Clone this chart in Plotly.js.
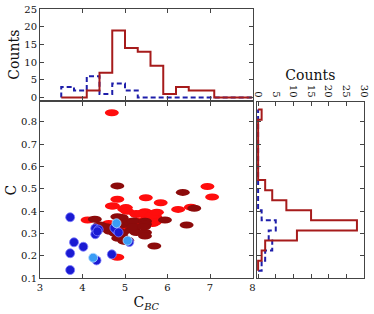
<!DOCTYPE html>
<html>
<head>
<meta charset="utf-8">
<script src="https://cdn.plot.ly/plotly-3.0.1.min.js"></script>
<style>html,body{margin:0;padding:0;background:#fff}#chart{width:374px;height:314px}</style>
</head>
<body>
<div id="chart"></div>
<script>
// ---- scatter data ----
const redX  = [4.12,4.69,4.69,4.62,4.82,4.72,4.82,4.98,4.95,4.88,4.93,5.02,5.05,5.26,5.24,5.10,5.27,5.15,5.49,5.47,5.40,5.50,5.35,5.55,5.38,5.58,5.84,5.67,5.71,5.65,5.62,5.70,5.75,5.65,6.25,6.55,6.94,7.05];
const redY  = [0.361,0.423,0.840,0.345,0.453,0.423,0.194,0.410,0.352,0.330,0.320,0.416,0.400,0.390,0.331,0.350,0.385,0.350,0.460,0.398,0.350,0.380,0.355,0.350,0.390,0.356,0.438,0.390,0.375,0.345,0.380,0.350,0.395,0.352,0.408,0.418,0.510,0.463];
const darkX = [4.29,4.41,4.45,4.65,4.55,4.82,4.82,4.92,4.84,4.96,4.92,4.75,4.85,4.90,4.78,4.97,4.99,5.08,5.21,5.20,5.15,5.27,5.20,5.05,5.47,5.47,5.47,5.47,5.45,5.69,5.94,6.36,6.45,6.63];
const darkY = [0.364,0.338,0.324,0.310,0.330,0.513,0.375,0.301,0.279,0.279,0.372,0.330,0.310,0.290,0.300,0.340,0.265,0.353,0.316,0.356,0.316,0.305,0.330,0.270,0.355,0.342,0.305,0.289,0.330,0.244,0.361,0.484,0.338,0.413];
const blueX = [3.71,3.71,3.71,3.80,4.02,4.30,4.30,4.33,4.38,4.35,4.69,4.79,4.75,4.85,5.10];
const blueY = [0.373,0.212,0.137,0.261,0.241,0.323,0.297,0.180,0.318,0.310,0.207,0.316,0.325,0.305,0.262];
const lightX = [4.25,4.80,5.06];
const lightY = [0.192,0.346,0.268];

// ---- histogram data ----
const xEdges = [3.5,3.8,4.1,4.4,4.7,5.0,5.3,5.6,5.9,6.2,6.5,6.8,7.1,7.4,7.7,8.0];
const xCountsRed  = [0,0,2,7,19,14,13,9,1,3,2,2,0,0,0];
const xCountsBlue = [3,2,6,1,4,2,0,0,0,0,0,0,0,0,0];
const yEdges = [0.134,0.179,0.224,0.269,0.314,0.359,0.404,0.449,0.494,0.539,0.584,0.629,0.674,0.719,0.764,0.809,0.854];
const yCountsRed  = [0,1,2,11,28,15,8,4,2,0,0,0,0,0,0,1];
const yCountsBlue = [1,2,4,3,5,1,0,0,0,0,0,0,0,0,0,0];

// step outline helpers
function stepX(edges, counts){
  const xs=[edges[0]], ys=[0];
  for(let i=0;i<counts.length;i++){ xs.push(edges[i]); ys.push(counts[i]); }
  xs.push(edges[edges.length-1]); ys.push(counts[counts.length-1]);
  xs.push(edges[edges.length-1]); ys.push(0);
  return {x:xs,y:ys};
}
function stepY(edges, counts){
  const xs=[0], ys=[edges[0]];
  for(let i=0;i<counts.length;i++){ xs.push(counts[i]); ys.push(edges[i]); }
  xs.push(counts[counts.length-1]); ys.push(edges[edges.length-1]);
  xs.push(0); ys.push(edges[edges.length-1]);
  return {x:xs,y:ys};
}

const RED_H='#a61b1b', BLUE_H='#1e1eaa';
const RED_P='#ff0d0d', DARK_P='#8c0b0b';

// ellipse markers: pixel-sized shapes anchored at data coordinates
function ellipses(xs, ys, color){
  return xs.map((x,i)=>({type:'circle',xref:'x',yref:'y',xsizemode:'pixel',ysizemode:'pixel',
    xanchor:x,yanchor:ys[i],x0:-7,x1:7,y0:-3.5,y1:3.5,fillcolor:color,line:{width:0},layer:'below'}));
}
const shapes=[].concat(ellipses(redX,redY,RED_P), ellipses(darkX,darkY,DARK_P));

const sxR=stepX(xEdges,xCountsRed), sxB=stepX(xEdges,xCountsBlue);
const syR=stepY(yEdges,yCountsRed), syB=stepY(yEdges,yCountsBlue);

const traces=[
  {type:'scatter',mode:'markers',x:blueX,y:blueY,marker:{symbol:'circle',size:9,color:'#1a1ad2',line:{color:'#7f7fff',width:0.8}},xaxis:'x',yaxis:'y',hoverinfo:'skip'},
  {type:'scatter',mode:'markers',x:lightX,y:lightY,marker:{symbol:'circle',size:9,color:'#3a9cf5',line:{color:'#b5dcff',width:0.8}},xaxis:'x',yaxis:'y',hoverinfo:'skip'},
  {type:'scatter',mode:'lines',x:sxB.x,y:sxB.y,line:{shape:'hv',color:BLUE_H,width:2,dash:'5px,3px'},xaxis:'x2',yaxis:'y2',hoverinfo:'skip'},
  {type:'scatter',mode:'lines',x:sxR.x,y:sxR.y,line:{shape:'hv',color:RED_H,width:2},xaxis:'x2',yaxis:'y2',hoverinfo:'skip'},
  {type:'scatter',mode:'lines',x:syB.x,y:syB.y,line:{shape:'vh',color:BLUE_H,width:2,dash:'5px,3px'},xaxis:'x3',yaxis:'y3',hoverinfo:'skip'},
  {type:'scatter',mode:'lines',x:syR.x,y:syR.y,line:{shape:'vh',color:RED_H,width:2},xaxis:'x3',yaxis:'y3',hoverinfo:'skip'}
];

const W=374,H=314;
const mainX=[40/W,252.5/W], mainY=[1-278.3/H,1-102/H];
const topY=[1-100/H,1-9.3/H];
const rightX=[256.7/W,364/W];
const tf={family:'DejaVu Serif',size:10,color:'#111'};
const base={showline:true,linecolor:'#444',linewidth:1,mirror:'ticks',ticks:'inside',ticklen:4,tickwidth:1,tickcolor:'#444',showgrid:false,zeroline:false,tickfont:tf,fixedrange:true};
const titleFont={family:'DejaVu Serif',size:14,color:'#111'};

const layout={
  width:W,height:H,margin:{l:0,r:0,t:0,b:0},paper_bgcolor:'#fff',plot_bgcolor:'#fff',showlegend:false,hovermode:false,
  shapes:shapes,
  xaxis:Object.assign({},base,{domain:mainX,range:[3,8],dtick:1,tick0:3,anchor:'y',title:{text:'C<sub><i>BC</i></sub>',font:titleFont,standoff:4}}),
  yaxis:Object.assign({},base,{domain:mainY,range:[0.1,0.888],dtick:0.1,tick0:0.1,tickformat:'.1f',anchor:'x',title:{text:'C',font:titleFont,standoff:1}}),
  xaxis2:Object.assign({},base,{domain:mainX,range:[3,8],dtick:1,tick0:3,showticklabels:false,anchor:'y2'}),
  yaxis2:Object.assign({},base,{domain:topY,range:[-0.7,25],dtick:5,tick0:0,anchor:'x2',title:{text:'Counts',font:titleFont,standoff:1}}),
  xaxis3:Object.assign({},base,{domain:rightX,range:[-0.4,30],dtick:5,tick0:0,side:'top',tickangle:90,anchor:'y3',title:{text:'Counts',font:titleFont,standoff:0}}),
  yaxis3:Object.assign({},base,{domain:mainY,range:[0.1,0.888],dtick:0.1,tick0:0.1,showticklabels:false,anchor:'x3'})
};
Plotly.newPlot('chart',traces,layout,{displayModeBar:false,staticPlot:true});
</script>
</body>
</html>
